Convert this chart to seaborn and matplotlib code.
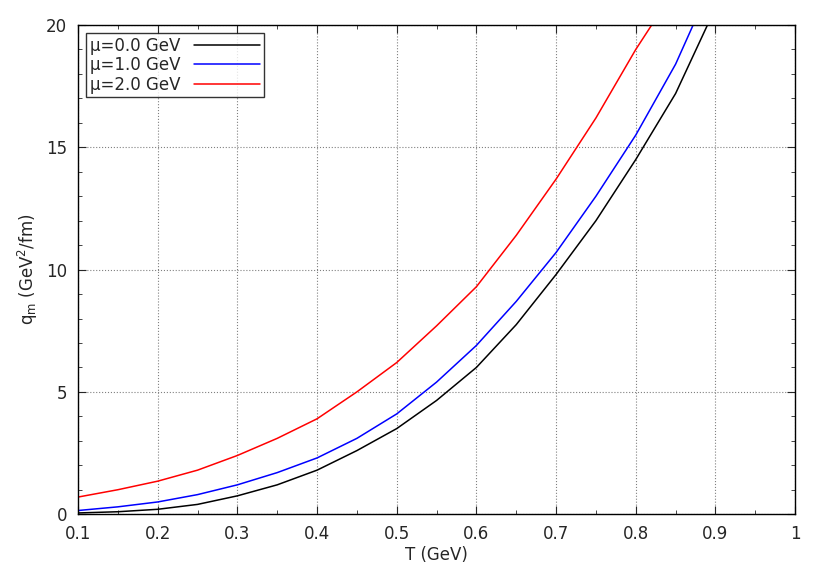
import matplotlib
matplotlib.use("Agg")
import matplotlib.pyplot as plt
import seaborn as sns
import pandas as pd
from matplotlib.ticker import MultipleLocator

T_black = [0.1,0.15,0.2,0.25,0.3,0.35,0.4,0.45,0.5,0.55,0.6,0.65,0.7,0.75,0.8,0.85,0.89]
q_black = [0.05,0.1,0.2,0.4,0.75,1.2,1.8,2.6,3.5,4.65,6.0,7.75,9.8,12.0,14.5,17.2,20.0]
T_blue = [0.1,0.15,0.2,0.25,0.3,0.35,0.4,0.45,0.5,0.55,0.6,0.65,0.7,0.75,0.8,0.85,0.872]
q_blue = [0.15,0.3,0.5,0.8,1.2,1.7,2.3,3.1,4.1,5.4,6.9,8.7,10.7,13.0,15.5,18.4,20.0]
T_red = [0.1,0.15,0.2,0.25,0.3,0.35,0.4,0.45,0.5,0.55,0.6,0.65,0.7,0.75,0.8,0.82]
q_red = [0.7,1.0,1.35,1.8,2.4,3.1,3.9,5.0,6.2,7.7,9.3,11.4,13.7,16.2,19.0,20.0]
labels = ["μ=0.0 GeV", "μ=1.0 GeV", "μ=2.0 GeV"]
colors = ["black", "blue", "red"]

sns.set_style("ticks")
plt.rcParams['font.family'] = ['DejaVu Sans']
fig = plt.figure(figsize=(8.3, 5.81), dpi=100)
ax = fig.add_axes([0.094, 0.115, 0.864, 0.842])

df = pd.concat([
    pd.DataFrame({"T": T_black, "q": q_black, "s": labels[0]}),
    pd.DataFrame({"T": T_blue, "q": q_blue, "s": labels[1]}),
    pd.DataFrame({"T": T_red, "q": q_red, "s": labels[2]}),
])
sns.lineplot(data=df, x="T", y="q", hue="s", palette=dict(zip(labels, colors)),
             ax=ax, linewidth=1.1, sort=False)

ax.set_xlim(0.1, 1.0)
ax.set_ylim(0, 20)
ax.xaxis.set_major_locator(MultipleLocator(0.1))
ax.xaxis.set_minor_locator(MultipleLocator(0.05))
ax.yaxis.set_major_locator(MultipleLocator(5))
ax.yaxis.set_minor_locator(MultipleLocator(1))
ax.set_xticklabels([f"{v:g}" for v in ax.get_xticks()])
ax.tick_params(which="both", direction="in", top=True, right=True, labelsize=12)
ax.tick_params(which="major", length=6)
ax.tick_params(which="minor", length=3)
ax.tick_params(axis="x", pad=8)
ax.tick_params(axis="y", pad=8)
ax.grid(True, which="major", linestyle=":", color="gray", linewidth=0.8)
for s in ax.spines.values():
    s.set_linewidth(1.0)
    s.set_color("black")
ax.set_xlabel("T (GeV)", fontsize=12, labelpad=2)
ax.set_ylabel(r"q$_\mathrm{m}$ (GeV$^2$/fm)", fontsize=12)
leg = ax.legend(loc="upper left", markerfirst=False, fontsize=12, frameon=True,
                fancybox=False, edgecolor="black", borderaxespad=0.5,
                handlelength=4, labelspacing=0.1, borderpad=0.2)
leg.get_frame().set_linewidth(1.0)
fig.savefig("out.png", dpi=100)
